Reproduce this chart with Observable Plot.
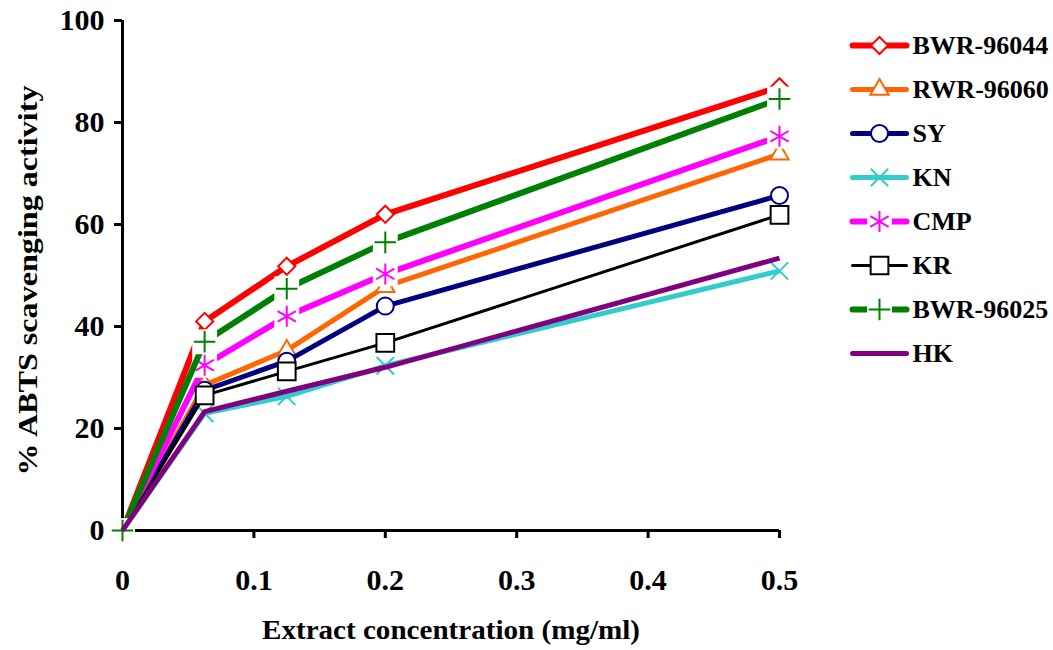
<!DOCTYPE html>
<html><head><meta charset="utf-8">
<script src="https://cdn.jsdelivr.net/npm/d3@7"></script>
<script src="https://cdn.jsdelivr.net/npm/@observablehq/plot@0.6"></script>
<style>
body{margin:0;background:#fff;}
#wrap{position:relative;width:1053px;height:650px;overflow:hidden;}
#wrap svg{position:absolute;left:0;top:0;}
</style></head><body><div id="wrap"></div>
<script>
// ---- data ----
const concentrations = [0, 0.0625, 0.125, 0.2, 0.5];
const seriesNames = ["BWR-96044", "RWR-96060", "SY", "KN", "CMP", "KR", "BWR-96025", "HK"];
const valsBWR96044 = [0, 41.0, 51.8, 62.0, 87.0];
const valsRWR96060 = [0, 28.5, 35.3, 47.8, 73.8];
const valsSY       = [0, 27.5, 33.2, 44.0, 65.7];
const valsKN       = [0, 23.0, 26.3, 32.3, 50.9];
const valsCMP      = [0, 32.4, 42.0, 50.3, 77.3];
const valsKR       = [0, 26.5, 31.2, 36.8, 61.9];
const valsBWR96025 = [0, 37.0, 47.4, 56.5, 84.6];
const valsHK       = [0, 23.3, 27.3, 32.0, 53.4];
const seriesValues = [valsBWR96044, valsRWR96060, valsSY, valsKN, valsCMP, valsKR, valsBWR96025, valsHK];
const xTicks = [0, 0.1, 0.2, 0.3, 0.4, 0.5];
const yTicks = [0, 20, 40, 60, 80, 100];
const xTitle = "Extract concentration (mg/ml)";
const yTitle = "% ABTS scavenging activity";

// ---- styles ----
const colors = ["#ff0000", "#ff6600", "#000080", "#33cccc", "#ff00ff", "#000000", "#008000", "#800080"];
const lineWidths = [6, 5, 5, 5, 6, 3, 6, 5];
const symbols = ["diamond2", "triangle", "circle", "times", "asterisk", "square", "plus", null];
const symbolR = {diamond2: 7.7, triangle: 6.8, circle: 8.5, times: 8, asterisk: 10, square: 10, plus: 7};
const filled = {diamond2: true, triangle: true, circle: true, square: true};
const halo = {plus: true, asterisk: true};
const FONT = "'Liberation Serif', 'Times New Roman', serif";

const table = [];
seriesNames.forEach((name, i) => concentrations.forEach((c, j) =>
  table.push({series: name, idx: i, x: c, y: seriesValues[i][j]})));

function seriesMarks(rows, i, opts = {}) {
  const sym = symbols[i];
  const marks = [Plot.line(rows, {x: "x", y: "y", stroke: colors[i], strokeWidth: lineWidths[i],
    strokeLinecap: opts.cap || "butt", strokeLinejoin: "round"})];
  if (sym) {
    const pts = rows.filter(opts.markerFilter || (() => true));
    if (halo[sym]) marks.push(Plot.dot(pts, {x: "x", y: "y", symbol: "square", r: 14, fill: "white", stroke: "none"}));
    marks.push(Plot.dot(pts, {x: "x", y: "y", symbol: sym, r: symbolR[sym],
      fill: filled[sym] ? "white" : "none", stroke: colors[i], strokeWidth: 2}));
  }
  return marks;
}

const marks = [
  Plot.axisX({ticks: xTicks, tickFormat: d => String(d), tickSize: 8, tickPadding: 30, fontSize: 30, strokeWidth: 3, label: null}),
  Plot.axisY({ticks: yTicks, tickFormat: d => String(d), tickSize: 8, tickPadding: 10, fontSize: 30, strokeWidth: 3, label: null}),
  Plot.ruleX([0], {strokeWidth: 3}),
  Plot.ruleY([0], {strokeWidth: 3})
];
seriesNames.forEach((name, i) => {
  const rows = table.filter(d => d.series === name);
  marks.push(...seriesMarks(rows, i, {markerFilter: d => d.x > 0 || name === "BWR-96025"}));
});
marks.push(Plot.text([xTitle], {frameAnchor: "bottom", dy: 108, fontSize: 28, fontWeight: "bold", textAnchor: "middle"}));
marks.push(Plot.text([yTitle], {frameAnchor: "left", dx: -94, dy: 5, rotate: -90, fontSize: 28, fontWeight: "bold", textAnchor: "middle"}));

const chart = Plot.plot({
  width: 1053, height: 650,
  marginLeft: 122, marginRight: 274, marginTop: 20, marginBottom: 120,
  x: {domain: [0, 0.5]}, y: {domain: [0, 100]},
  style: {fontFamily: FONT, fontWeight: "bold", color: "#000", background: "white"},
  marks
});

// ---- legend (second Plot overlaid) ----
const legendRows = [];
seriesNames.forEach((name, i) => [0, 0.5, 1].forEach(p => legendRows.push({series: name, idx: i, x: p})));
const legendMarks = [];
seriesNames.forEach((name, i) => {
  const rows = legendRows.filter(d => d.series === name).map(d => ({...d, y: d.series}));
  legendMarks.push(...seriesMarks(rows, i, {cap: "round", markerFilter: d => d.x === 0.5}));
});
legendMarks.push(Plot.text(seriesNames, {x: () => 1, y: d => d, dx: 6, textAnchor: "start", fontSize: 26, fontWeight: "bold"}));
const legend = Plot.plot({
  width: 1053, height: 650,
  x: {domain: [0, 1], range: [852, 906], axis: null},
  y: {type: "point", domain: seriesNames, range: [45, 353], padding: 0, axis: null},
  style: {fontFamily: FONT, fontWeight: "bold", color: "#000", background: "transparent"},
  marks: legendMarks
});

const wrap = document.getElementById("wrap");
wrap.appendChild(chart);
wrap.appendChild(legend);

// compress titles to the reference's widths
chart.querySelectorAll("text").forEach(t => {
  if (t.textContent === xTitle) { t.setAttribute("textLength", 378); t.setAttribute("lengthAdjust", "spacingAndGlyphs"); }
  if (t.textContent === yTitle) { t.setAttribute("textLength", 390); t.setAttribute("lengthAdjust", "spacingAndGlyphs"); }
});
</script></body></html>
